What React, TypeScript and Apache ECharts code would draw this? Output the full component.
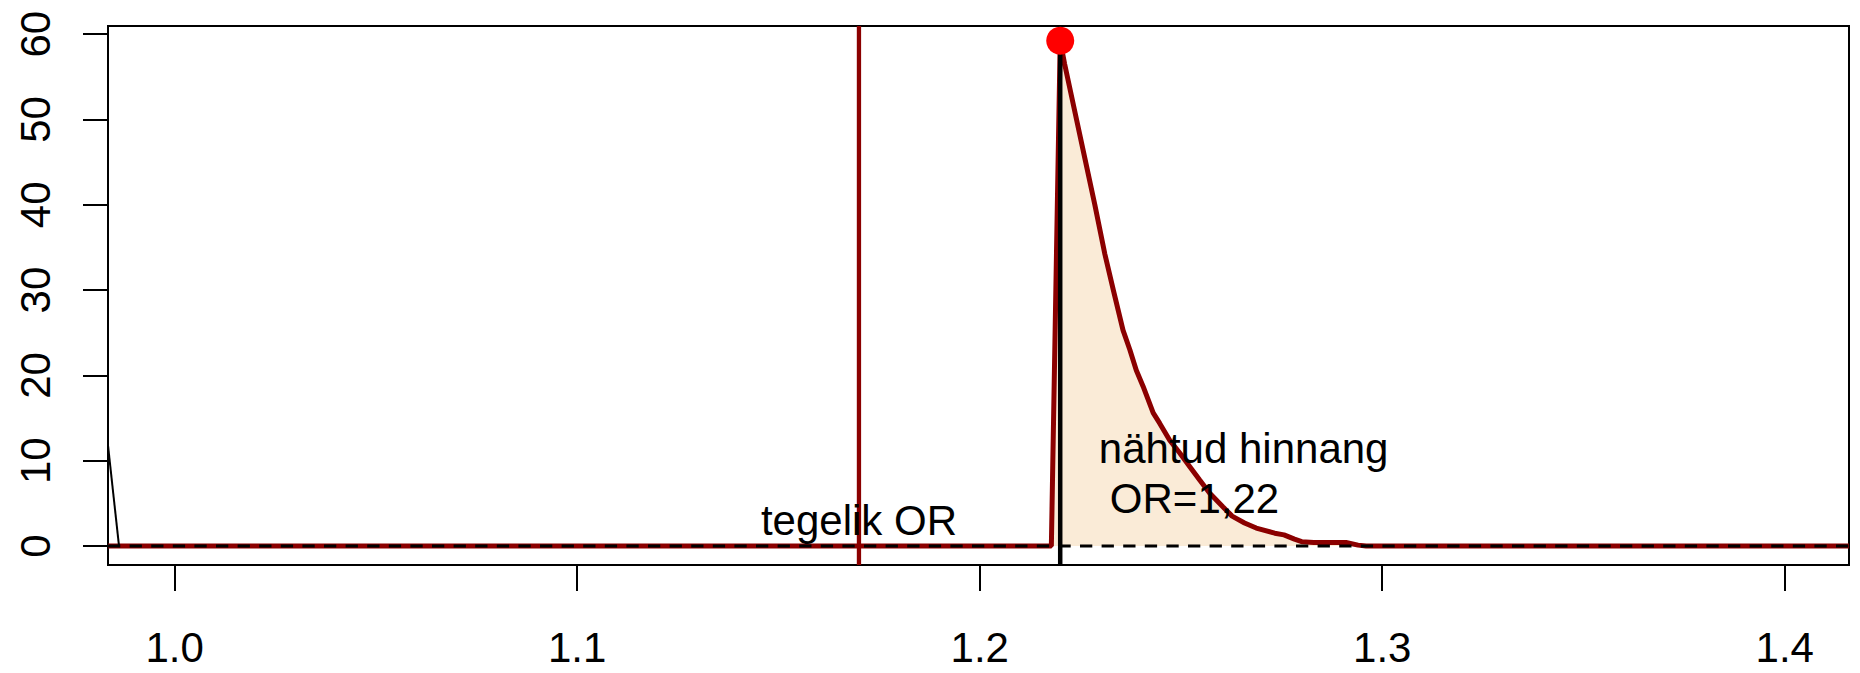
import React, { useEffect, useRef } from "react";
import * as echarts from "echarts";

// axis ranges and tick labels
const xRange = [0.98343, 1.41597];
const yRange = [-2.23, 60.96];
const xTicks = [1.0, 1.1, 1.2, 1.3, 1.4];
const yTicks = [0, 10, 20, 30, 40, 50, 60];

// simulated density of OR (dark red curve, filled)
const densityX = [
  0.98343, 1.2178, 1.22, 1.2211, 1.2236, 1.2261, 1.2286, 1.2311, 1.2332,
  1.2356, 1.2373, 1.2389, 1.2406, 1.2431, 1.2447, 1.2472, 1.2497, 1.2522, 1.2547,
  1.2571, 1.2604, 1.2627, 1.2658, 1.2687, 1.2733, 1.2756, 1.2782, 1.28, 1.283,
  1.291, 1.294, 1.296, 1.41597,
];
const densityY = [
  0, 0, 59.2, 56.5, 51.0, 45.5, 40.0, 34.2, 30.0,
  25.3, 23.0, 20.6, 18.7, 15.6, 14.4, 12.4, 10.9, 9.3, 7.7,
  6.2, 4.6, 3.5, 2.7, 2.1, 1.5, 1.3, 0.8, 0.5, 0.4,
  0.4, 0.1, 0, 0,
];

// thin black curve entering from the left edge
const leftTailX = [0.98343, 0.98616];
const leftTailY = [11.8, 0];

// reference lines and point
const zeroLevel = 0;
const trueOR = 1.17;
const observedOR = 1.22;
const peakY = 59.24;

// text annotations (data coordinates)
const labelTrue = { text: "tegelik OR", x: 1.17, y: 2.99 };
const labelObs1 = { text: "nähtud hinnang", x: 1.2296, y: 11.43 };
const labelObs2 = { text: "OR=1,22", x: 1.2296, y: 5.57 };

const FONT = "Liberation Sans, Arial, sans-serif";

export default function App() {
  const ref = useRef<HTMLDivElement>(null);

  useEffect(() => {
    const chart = echarts.init(ref.current!, null, { renderer: "svg" });
    chart.setOption({
      animation: false,
      backgroundColor: "#ffffff",
      grid: {
        left: 108,
        right: 11,
        top: 26,
        bottom: 108,
        show: true,
        borderColor: "#000",
        borderWidth: 2,
        backgroundColor: "transparent",
      },
      xAxis: {
        type: "value",
        position: "bottom",
        min: xRange[0],
        max: xRange[1],
        axisLine: { show: true, onZero: false, lineStyle: { color: "#000", width: 2 } },
        splitLine: { show: false },
        axisTick: {
          show: true,
          inside: false,
          customValues: xTicks,
          length: 26,
          lineStyle: { color: "#000", width: 2 },
        },
        axisLabel: {
          customValues: xTicks,
          formatter: (v: number) => v.toFixed(1),
          margin: 61,
          fontSize: 42,
          color: "#000",
          fontFamily: FONT,
        },
      },
      yAxis: {
        type: "value",
        position: "left",
        min: yRange[0],
        max: yRange[1],
        axisLine: { show: true, onZero: false, lineStyle: { color: "#000", width: 2 } },
        splitLine: { show: false },
        axisTick: {
          show: true,
          inside: false,
          customValues: yTicks,
          length: 25,
          lineStyle: { color: "#000", width: 2 },
        },
        axisLabel: {
          customValues: yTicks,
          rotate: 90,
          margin: 52,
          fontSize: 42,
          color: "#000",
          fontFamily: FONT,
        },
      },
      series: [
        {
          type: "line",
          data: densityX.map((x, i) => [x, densityY[i]]),
          symbol: "none",
          lineStyle: { color: "#8B0000", width: 5 },
          areaStyle: { color: "#FAEBD7", opacity: 1 },
          z: 1,
          silent: true,
        },
        {
          type: "line",
          data: leftTailX.map((x, i) => [x, leftTailY[i]]),
          symbol: "none",
          lineStyle: { color: "#000", width: 2 },
          z: 2,
          silent: true,
        },
        {
          type: "line",
          data: [[xRange[0], zeroLevel], [xRange[1], zeroLevel]],
          symbol: "none",
          lineStyle: { color: "#000", width: 2.8, type: [12.3, 9.3] },
          z: 3,
          silent: true,
        },
        {
          type: "line",
          data: [[trueOR, yRange[0]], [trueOR, yRange[1]]],
          symbol: "none",
          lineStyle: { color: "#8B0000", width: 4.3 },
          z: 4,
          silent: true,
        },
        {
          type: "line",
          data: [[observedOR, yRange[0]], [observedOR, yRange[1]]],
          symbol: "none",
          lineStyle: { color: "#000", width: 4.5 },
          z: 5,
          silent: true,
        },
        {
          type: "scatter",
          data: [[observedOR, peakY]],
          symbol: "circle",
          symbolSize: 28,
          itemStyle: { color: "#FF0000", opacity: 1 },
          z: 10,
          silent: true,
        },
      ],
    });

    const px = (x: number, y: number) =>
      chart.convertToPixel({ seriesIndex: 0 }, [x, y]) as number[];
    const pT = px(labelTrue.x, labelTrue.y);
    const p1 = px(labelObs1.x, labelObs1.y);
    const p2 = px(labelObs2.x, labelObs2.y);
    const textStyle = { fontSize: 42, fontFamily: FONT, fill: "#000" };
    chart.setOption({
      graphic: [
        {
          type: "text",
          x: pT[0],
          y: pT[1],
          z: 20,
          silent: true,
          style: { ...textStyle, text: labelTrue.text, textAlign: "center", textVerticalAlign: "middle" },
        },
        {
          type: "text",
          x: p1[0],
          y: p1[1],
          z: 20,
          silent: true,
          style: { ...textStyle, text: labelObs1.text, textAlign: "left", textVerticalAlign: "middle" },
        },
        {
          type: "text",
          x: p2[0] + 11,
          y: p2[1],
          z: 20,
          silent: true,
          style: { ...textStyle, text: labelObs2.text, textAlign: "left", textVerticalAlign: "middle" },
        },
      ],
    });

    return () => chart.dispose();
  }, []);

  return (
    <div
      ref={ref}
      style={{ position: "absolute", left: 0, top: 0, width: 1860, height: 673 }}
    />
  );
}
